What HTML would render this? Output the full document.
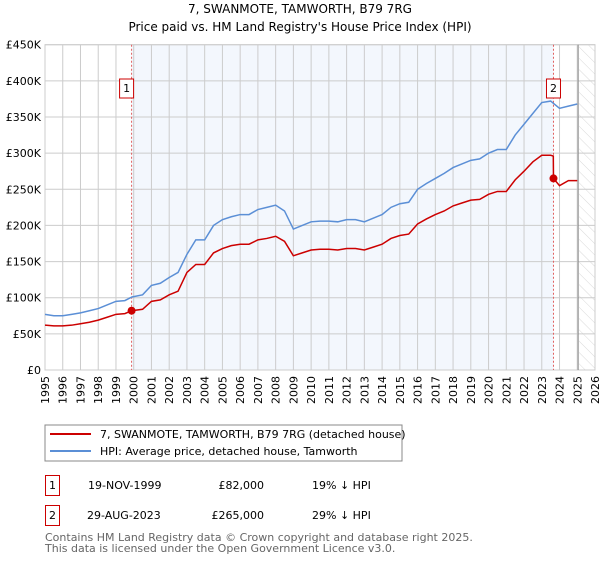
<!DOCTYPE html>
<html><head><meta charset="utf-8"><style>
body{margin:0;background:#fff;font-family:"DejaVu Sans","Liberation Sans",sans-serif;}
svg text{font-family:"DejaVu Sans","Liberation Sans",sans-serif;}
</style></head><body>
<svg id="c" width="600" height="560" xmlns="http://www.w3.org/2000/svg">
<defs><pattern id="hatch" width="8" height="8" patternUnits="userSpaceOnUse" patternTransform="rotate(-45)"><line x1="0" y1="0" x2="0" y2="8" stroke="#d0d0d0" stroke-width="0.8"/></pattern></defs>
<text x="300" y="13" text-anchor="middle" font-size="12">7, SWANMOTE, TAMWORTH, B79 7RG</text>
<text x="300" y="31" text-anchor="middle" font-size="12">Price paid vs. HM Land Registry's House Price Index (HPI)</text>
<g id="plot"></g>
<rect x="45" y="425" width="357" height="36" fill="#fff" stroke="#888"/>
<line x1="50" y1="434" x2="91" y2="434" stroke="#cc0000" stroke-width="2"/>
<text x="100" y="438" font-size="11">7, SWANMOTE, TAMWORTH, B79 7RG (detached house)</text>
<line x1="50" y1="451" x2="91" y2="451" stroke="#5b8fd6" stroke-width="2"/>
<text x="100" y="455" font-size="11">HPI: Average price, detached house, Tamworth</text>
<rect x="45.5" y="475.5" width="14" height="20" fill="#fff" stroke="#cc0000"/>
<text x="52.5" y="489" text-anchor="middle" font-size="11">1</text>
<text x="88" y="489" font-size="11">19-NOV-1999</text>
<text x="264" y="489" font-size="11" text-anchor="end">£82,000</text>
<text x="312" y="489" font-size="11">19% ↓ HPI</text>
<rect x="45.5" y="505.5" width="14" height="20" fill="#fff" stroke="#cc0000"/>
<text x="52.5" y="519" text-anchor="middle" font-size="11">2</text>
<text x="87" y="519" font-size="11">29-AUG-2023</text>
<text x="264" y="519" font-size="11" text-anchor="end">£265,000</text>
<text x="312" y="519" font-size="11">29% ↓ HPI</text>
<text x="45" y="541" font-size="11" fill="#666">Contains HM Land Registry data © Crown copyright and database right 2025.</text>
<text x="45" y="552" font-size="11" fill="#666">This data is licensed under the Open Government Licence v3.0.</text>
</svg>
<script>
const hpiYears=[1995,1995.5,1996,1996.5,1997,1997.5,1998,1998.5,1999,1999.5,1999.9,2000.5,2001,2001.5,2002,2002.5,2003,2003.5,2004,2004.5,2005,2005.5,2006,2006.5,2007,2007.5,2008,2008.5,2009,2009.5,2010,2010.5,2011,2011.5,2012,2012.5,2013,2013.5,2014,2014.5,2015,2015.5,2016,2016.5,2017,2017.5,2018,2018.5,2019,2019.5,2020,2020.5,2021,2021.5,2022,2022.5,2023,2023.5,2024,2024.5,2025];
const hpiValues=[77,75,75,77,79,82,85,90,95,96,101,104,117,120,128,135,160,180,180,200,208,212,215,215,222,225,228,220,195,200,205,206,206,205,208,208,205,210,215,225,230,232,250,258,265,272,280,285,290,292,300,305,305,325,340,355,370,372,362,365,368];
const redYears=[1995,1995.5,1996,1996.5,1997,1997.5,1998,1998.5,1999,1999.5,1999.88,2000.5,2001,2001.5,2002,2002.5,2003,2003.5,2004,2004.5,2005,2005.5,2006,2006.5,2007,2007.5,2008,2008.5,2009,2009.5,2010,2010.5,2011,2011.5,2012,2012.5,2013,2013.5,2014,2014.5,2015,2015.5,2016,2016.5,2017,2017.5,2018,2018.5,2019,2019.5,2020,2020.5,2021,2021.5,2022,2022.5,2023,2023.5,2023.65,2023.66,2024,2024.5,2025];
const redValues=[62,61,61,62,64,66,69,73,77,78,82,84,95,97,104,109,135,146,146,162,168,172,174,174,180,182,185,178,158,162,166,167,167,166,168,168,166,170,174,182,186,188,202,209,215,220,227,231,235,236,243,247,247,263,275,288,297,297,296,265,255,262,262];
const sales=[{n:"1",year:1999.88,value:82},{n:"2",year:2023.66,value:265}];
const yTicks=[0,50,100,150,200,250,300,350,400,450];
const yTickLabels=["£0","£50K","£100K","£150K","£200K","£250K","£300K","£350K","£400K","£450K"];
const xTicks=[];for(let y=1995;y<=2026;y++)xTicks.push(y);
const X0=45,X1=595,Y0=370,Y1=44.7;
const xs=y=>X0+(y-1995)/(2026-1995)*(X1-X0);
const ys=v=>Y0-v/450*(Y0-Y1);
const NS="http://www.w3.org/2000/svg";
const g=document.getElementById('plot');
function mk(t,a){const e=document.createElementNS(NS,t);for(const k in a)e.setAttribute(k,a[k]);g.appendChild(e);return e;}
let e;
e=mk('rect',{x:xs(1999.88),y:Y1,width:xs(2023.66)-xs(1999.88),height:Y0-Y1,fill:'#eef3fc',opacity:0.7});


e=mk('rect',{x:xs(2025.1),y:Y1,width:X1-xs(2025.1),height:Y0-Y1,fill:'url(#hatch)'});


yTicks.forEach((v,i)=>{
 e=mk('line',{x1:X0,x2:X1,y1:ys(v),y2:ys(v),stroke:'#ccc'});
 
 
 e=mk('text',{x:X0-4,y:ys(v)+4,'text-anchor':'end','font-size':11});e.textContent=yTickLabels[i];
 
 
});
xTicks.forEach(y=>{
 e=mk('line',{x1:xs(y),x2:xs(y),y1:Y1,y2:Y0,stroke:'#ccc'});
 
 
 e=mk('text',{x:0,y:0,'text-anchor':'end','font-size':11,transform:`translate(${xs(y)+4},${Y0+6}) rotate(-90)`});e.textContent=y;
 
 
});
e=mk('rect',{x:X0,y:Y1,width:X1-X0,height:Y0-Y1,fill:'none',stroke:'#ccc'});


e=mk('line',{x1:xs(2025.05),x2:xs(2025.05),y1:Y1,y2:Y0,stroke:'#888','stroke-width':1});


sales.forEach(s=>{
 e=mk('line',{x1:xs(s.year),x2:xs(s.year),y1:Y1,y2:Y0,stroke:'#e06060','stroke-dasharray':'2,2'});
 
 
});
e=mk('polyline',{points:hpiYears.map((y,i)=>xs(y)+','+ys(hpiValues[i])).join(' '),fill:'none',stroke:'#5b8fd6','stroke-width':1.5});


e=mk('polyline',{points:redYears.map((y,i)=>xs(y)+','+ys(redValues[i])).join(' '),fill:'none',stroke:'#cc0000','stroke-width':1.5});


sales.forEach(s=>{
 e=mk('circle',{cx:xs(s.year),cy:ys(s.value),r:4,fill:'#cc0000'});
 
 
 const bx=xs(s.year)-(s.n=="1"?12:7);
 e=mk('rect',{x:bx,y:79,width:14,height:19,fill:'#fff',stroke:'#cc0000'});
 
 
 e=mk('text',{x:bx+7,y:92,'text-anchor':'middle','font-size':11});e.textContent=s.n;
 
 
});
</script>
</body></html>
